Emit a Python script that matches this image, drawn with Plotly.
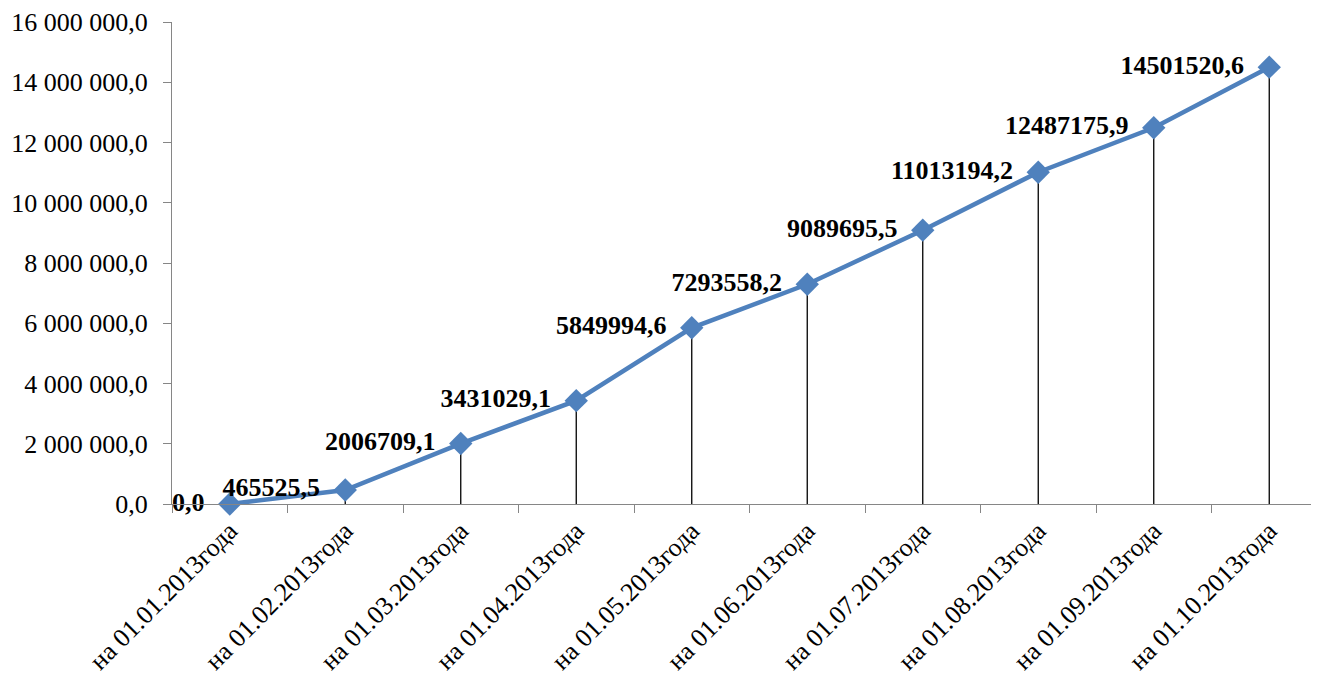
import plotly.graph_objects as go

categories = ["на 01.01.2013года", "на 01.02.2013года", "на 01.03.2013года",
              "на 01.04.2013года", "на 01.05.2013года", "на 01.06.2013года",
              "на 01.07.2013года", "на 01.08.2013года", "на 01.09.2013года",
              "на 01.10.2013года"]
values = [0.0, 465525.5, 2006709.1, 3431029.1, 5849994.6, 7293558.2,
          9089695.5, 11013194.2, 12487175.9, 14501520.6]
y_ticks = [0, 2000000, 4000000, 6000000, 8000000, 10000000, 12000000, 14000000, 16000000]

FONT = "Liberation Serif"

# drop lines from each point to the axis
dx, dy = [], []
for c, v in zip(categories, values):
    dx += [c, c, None]
    dy += [0, v, None]

fig = go.Figure()
fig.add_trace(go.Scatter(x=dx, y=dy, mode="lines",
                         line=dict(color="black", width=1.3),
                         hoverinfo="skip", showlegend=False))
fig.add_trace(go.Scatter(
    x=categories, y=values, mode="lines+markers+text",
    line=dict(color="#4F81BD", width=4.5),
    marker=dict(symbol="diamond", size=18, color="#4F81BD"),
    texttemplate="%{y:.1f}\u00a0\u00a0", textposition="middle left",
    textfont=dict(family=FONT, size=26, color="black", weight="bold"),
    showlegend=False, cliponaxis=False))

fig.update_layout(
    width=1319, height=680,
    margin=dict(l=164, r=0, t=14, b=184),
    paper_bgcolor="white", plot_bgcolor="white",
    separators=", ",
    font=dict(family=FONT, size=26, color="black"),
)
fig.update_xaxes(type="category", range=[-0.5, 9.5], showgrid=False,
                 showline=True, linecolor="#868686", linewidth=1.3,
                 ticks="outside", tickson="boundaries", ticklen=8,
                 tickcolor="#868686", tickangle=-45, automargin=False,
                 tickfont=dict(family=FONT, size=26))
fig.update_yaxes(range=[0, 16000000], tickvals=y_ticks, tickformat=",.1f",
                 showgrid=False, zeroline=False, showline=True,
                 linecolor="#868686", linewidth=1.3, ticks="outside",
                 ticklen=8, tickcolor="#868686", automargin=False,
                 ticklabelstandoff=10,
                 tickfont=dict(family=FONT, size=26))

fig.write_html("out.html")
